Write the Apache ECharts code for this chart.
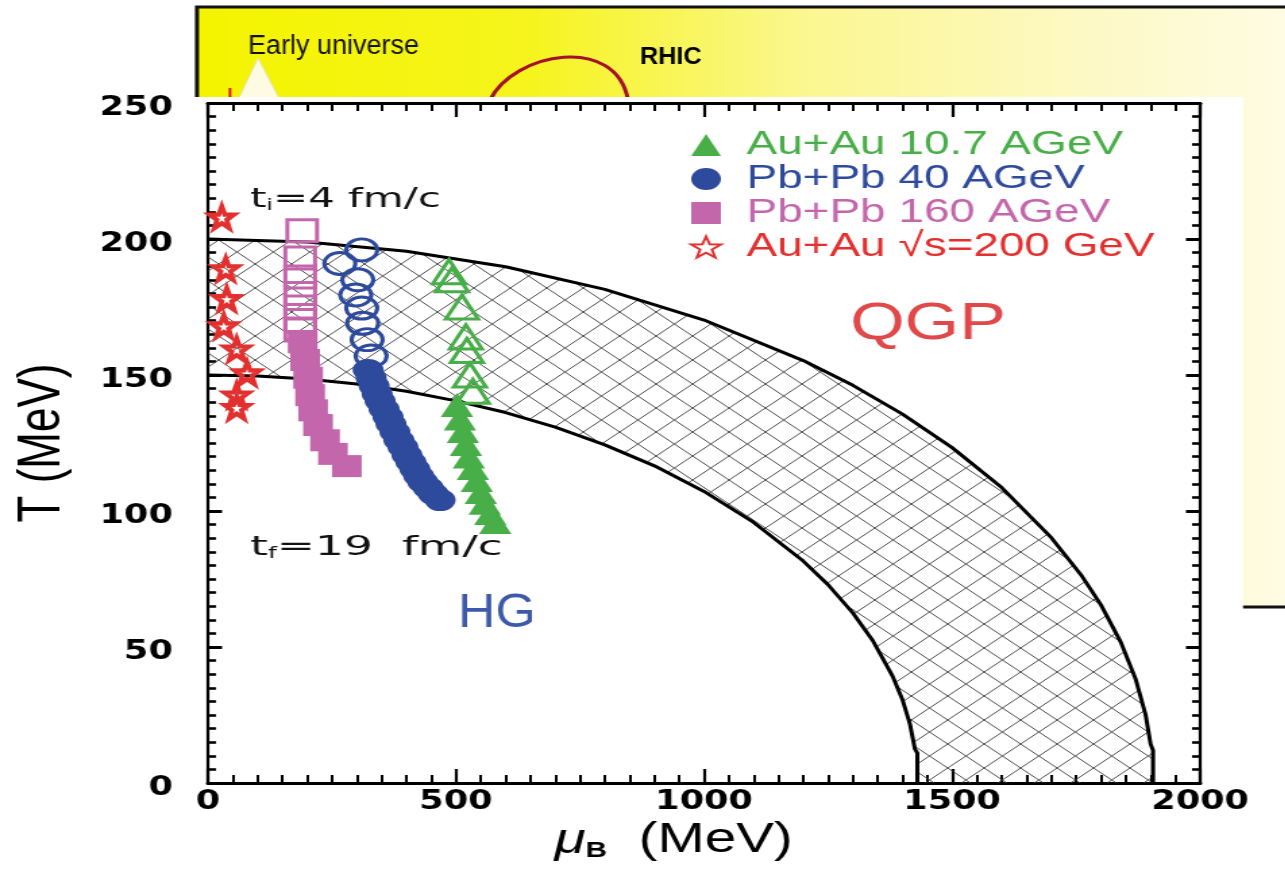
<!DOCTYPE html>
<html>
<head>
<meta charset="utf-8">
<script src="https://cdn.jsdelivr.net/npm/echarts@6/dist/echarts.min.js"></script>
<style>
  html, body { margin: 0; padding: 0; background: #fff; width: 1285px; height: 873px; overflow: hidden; }
  /* the figure is drawn narrow and widened horizontally */
  #chart { width: 952px; height: 873px; transform: scaleX(1.35); transform-origin: 0 0; }
</style>
</head>
<body>
<div id="chart"></div>
<script>
// ---- data: freeze-out trajectories in the T - mu_B plane ----
// phase boundary band (inner and outer edge), mu_B in MeV, T in MeV
const innerMu = [0, 100, 200, 300, 400, 500, 600, 700, 800, 900, 1000, 1100, 1200, 1250, 1300, 1340, 1380, 1400, 1415, 1425, 1430, 1430];
const innerT  = [150, 149.6, 148.5, 146.7, 144, 140.5, 136.2, 130.8, 124.3, 116.6, 107.2, 95.8, 81.6, 72.9, 62.5, 52.4, 39.3, 30.6, 21.7, 12.5, 11, 0];
const outerMu = [0, 200, 400, 600, 800, 1000, 1200, 1300, 1400, 1500, 1600, 1700, 1760, 1800, 1840, 1870, 1890, 1900, 1905, 1905];
const outerT  = [200, 198.9, 195.5, 189.8, 181.5, 170.2, 155.3, 146.2, 135.6, 123.3, 108.6, 90.2, 76.5, 65.5, 51.8, 38.2, 25.1, 14.4, 12, 0];

// Au+Au 10.7 AGeV (early times open, later filled)
const au107OpenMu   = [486, 492, 512, 520, 522, 528, 534];
const au107OpenT    = [188, 185, 175, 164, 159, 150, 144];
const au107FilledMu = [502, 508, 514, 520, 526, 534, 542, 550, 558, 569, 579];
const au107FilledT  = [139, 134, 129.4, 124.6, 120, 115.8, 111.4, 107, 103, 99.3, 96];

// Pb+Pb 40 AGeV
const pb40OpenMu   = [310, 266, 302, 298, 310, 312, 321, 329];
const pb40OpenT    = [196, 191, 185, 179.4, 174.6, 169, 163, 157];
const pb40FilledMu = [323, 329, 335, 341, 347, 355, 363, 369, 377, 385, 393, 401, 409, 417, 425, 433, 444, 454, 468];
const pb40FilledT  = [151.8, 148.9, 146, 143, 140.4, 137.5, 134.6, 132, 129, 126, 123.5, 120.6, 118, 115.4, 112.9, 110.7, 108.5, 106.3, 104];

// Pb+Pb 160 AGeV
const pb160OpenMu   = [190, 186, 186, 186, 186, 186, 186];
const pb160OpenT    = [203, 193, 186, 180, 175, 170, 166.5];
const pb160FilledMu = [191, 196, 202, 206, 212, 222, 236, 252, 280];
const pb160FilledT  = [162, 155.5, 149, 142.6, 137, 131.6, 126, 121, 116.5];

// Au+Au sqrt(s)=200 GeV
const au200Mu = [28, 36, 38, 32, 58, 79, 58, 58];
const au200T  = [208, 189, 178, 168, 159.5, 150.7, 142.6, 138];

const seriesNames = ['Au+Au 10.7 AGeV', 'Pb+Pb 40 AGeV', 'Pb+Pb 160 AGeV', 'Au+Au \u221As=200 GeV'];
const xTickStep = 500, yTickStep = 50;

// ---- styling ----
const X_SCALE = 1.35;            // horizontal widening of the chart container
const sx = v => v / X_SCALE;     // page x -> chart x
const GREEN = '#48ae48', BLUE = '#2e4a9c', PINK = '#c466ac', RED = '#e2302e';
const STAR = 'path://M50,0 L61.8,33.8 L97.6,34.5 L69,56.2 L79.4,90.5 L50,70 L20.6,90.5 L31,56.2 L2.4,34.5 L38.2,33.8 Z';

function points(mu, t) { return mu.map((m, i) => [m, t[i]]); }
function openPoints(mu, t, color) {
  return mu.map((m, i) => ({
    value: [m, t[i]],
    itemStyle: { color: 'rgba(0,0,0,0)', borderColor: color, borderWidth: 3 }
  }));
}

// cross-hatch tile for the transition band
function hatchTile() {
  const w = 27, h = 24;
  const c = document.createElement('canvas');
  c.width = w; c.height = h;
  const g = c.getContext('2d');
  g.strokeStyle = '#3a3a3a';
  g.lineWidth = 0.9;
  for (const dx of [-w, 0, w]) {
    g.beginPath(); g.moveTo(dx, 0); g.lineTo(dx + w, h); g.stroke();
    g.beginPath(); g.moveTo(dx + w, 0); g.lineTo(dx, h); g.stroke();
  }
  return c;
}
const hatchFill = { image: hatchTile(), repeat: 'repeat' };

const tickLabel = { fontFamily: 'DejaVu Sans', fontWeight: 'bold', fontSize: 26, color: '#000', formatter: v => String(v) };

function frameAxis(extra) {
  return Object.assign({
    type: 'value',
    splitLine: { show: false },
    minorSplitLine: { show: false },
  }, extra);
}

const xCommon = {
  min: 0, max: 2000, interval: xTickStep,
  axisLine: { show: true, onZero: false, lineStyle: { color: '#000', width: 3 } },
  axisTick: { show: true, inside: true, length: 14, lineStyle: { color: '#000', width: 2.2 } },
  minorTick: { show: true, splitNumber: 10, length: 8, lineStyle: { color: '#000', width: 2 } }
};
const yCommon = {
  min: 0, max: 250, interval: yTickStep,
  axisLine: { show: true, onZero: false, lineStyle: { color: '#000', width: 2.2 } },
  axisTick: { show: true, inside: true, length: 10.5, lineStyle: { color: '#000', width: 3 } },
  minorTick: { show: true, splitNumber: 10, length: 6, lineStyle: { color: '#000', width: 2.6 } }
};

const chart = echarts.init(document.getElementById('chart'), null, { renderer: 'canvas' });

const option = {
  animation: false,
  backgroundColor: '#fff',
  grid: { left: 154, right: 63, top: 103, bottom: 90 },
  legend: {
    orient: 'vertical',
    left: 511, top: 128,
    padding: 0, itemGap: 0,
    itemWidth: 22, itemHeight: 22,
    selectedMode: false,
    textStyle: { fontFamily: 'Liberation Sans', fontSize: 34, lineHeight: 34, padding: [0, 0, 0, 14] },
    data: [
      { name: seriesNames[0], icon: 'triangle', textStyle: { color: GREEN } },
      { name: seriesNames[1], icon: 'circle', textStyle: { color: BLUE } },
      { name: seriesNames[2], icon: 'rect', textStyle: { color: PINK } },
      { name: seriesNames[3], icon: STAR, textStyle: { color: RED } }
    ]
  },
  xAxis: [
    frameAxis(Object.assign({}, xCommon, {
      position: 'bottom',
      axisLabel: Object.assign({ margin: 6 }, tickLabel),
      name: '{mu|\u03bc}{sub|B}{t|  (MeV)}',
      nameLocation: 'middle',
      nameGap: 30,
      nameTextStyle: {
        padding: [0, 45, 0, 0],
        rich: {
          mu: { fontFamily: 'Liberation Sans', fontStyle: 'italic', fontSize: 42, color: '#000' },
          sub: { fontFamily: 'Liberation Sans', fontWeight: 'bold', fontSize: 22, color: '#000', verticalAlign: 'bottom' },
          t: { fontFamily: 'Liberation Sans', fontSize: 42, color: '#000' }
        }
      }
    })),
    frameAxis(Object.assign({}, xCommon, { position: 'top', axisLabel: { show: false } }))
  ],
  yAxis: [
    frameAxis(Object.assign({}, yCommon, {
      position: 'left',
      axisLabel: Object.assign({ margin: 26, verticalAlign: 'top', lineHeight: 10 }, tickLabel),
      name: 'T (MeV)',
      nameLocation: 'middle',
      nameRotate: 90,
      nameGap: 100,
      nameTextStyle: { fontFamily: 'Liberation Sans', fontSize: 44, color: '#000' }
    })),
    frameAxis(Object.assign({}, yCommon, { position: 'right', axisLabel: { show: false } }))
  ],
  graphic: [
    // slide panel behind the plot
    {
      type: 'rect', z: -10,
      shape: { x: sx(197), y: 7, width: sx(1300) - sx(197), height: 600 },
      style: {
        fill: new echarts.graphic.LinearGradient(0, 0, 1, 0, [
          { offset: 0, color: '#f4f400' },
          { offset: 0.3, color: '#f6f41c' },
          { offset: 0.55, color: '#fbf790' },
          { offset: 0.8, color: '#fdf9c4' },
          { offset: 1, color: '#fffce6' }
        ]),
        stroke: '#111', lineWidth: 3
      }
    },
    { type: 'polygon', z: -9, shape: { points: [[sx(258), 58], [sx(238), 100], [sx(280), 100]] }, style: { fill: '#fffbe2', stroke: '#e8e6a0', lineWidth: 1 } },
    { type: 'line', z: -9, shape: { x1: sx(230), y1: 88, x2: sx(230), y2: 100 }, style: { stroke: '#e01818', lineWidth: 2 } },
    {
      type: 'text', z: -9, x: sx(248), y: 47, scaleX: 0.74,
      style: { text: 'Early universe', fontFamily: 'Liberation Sans', fontSize: 27, fill: '#111', verticalAlign: 'middle', align: 'left' }
    },
    {
      type: 'text', z: -9, x: sx(640), y: 57, scaleX: 0.78,
      style: { text: 'RHIC', fontFamily: 'Liberation Sans', fontWeight: 'bold', fontSize: 24, fill: '#000', verticalAlign: 'middle', align: 'left' }
    },
    {
      type: 'bezierCurve', z: -9,
      shape: { x1: sx(490), y1: 100, cpx1: sx(514), cpy1: 52, cpx2: sx(616), cpy2: 34, x2: sx(628), y2: 100 },
      style: { stroke: '#a3112c', lineWidth: 3, fill: null }
    },
    // white plot sheet
    { type: 'rect', z: -8, shape: { x: 0, y: 97, width: sx(1243), height: 800 }, style: { fill: '#ffffff' } },
    // annotations
    {
      type: 'text', z: 50, x: sx(250), y: 200, scaleX: 1.15,
      style: {
        text: '{a|t}{s|i}{a|=4 fm/c}', verticalAlign: 'middle', align: 'left',
        rich: {
          a: { fontFamily: 'DejaVu Sans', fontSize: 27, fill: '#111' },
          s: { fontFamily: 'DejaVu Sans', fontSize: 15, fill: '#111', verticalAlign: 'bottom' }
        }
      }
    },
    {
      type: 'text', z: 50, x: sx(250), y: 548, scaleX: 1.25,
      style: {
        text: '{a|t}{s|f}{a|=19  fm/c}', verticalAlign: 'middle', align: 'left',
        rich: {
          a: { fontFamily: 'DejaVu Sans', fontSize: 27, fill: '#111' },
          s: { fontFamily: 'DejaVu Sans', fontSize: 15, fill: '#111', verticalAlign: 'bottom' }
        }
      }
    },
    {
      type: 'text', z: 50, x: sx(850), y: 325,
      style: { text: 'QGP', fontFamily: 'Liberation Sans', fontSize: 52, fill: '#e0484a', verticalAlign: 'middle', align: 'left' }
    },
    {
      type: 'text', z: 50, x: sx(458), y: 614, scaleX: 0.8,
      style: { text: 'HG', fontFamily: 'Liberation Sans', fontSize: 48, fill: '#3d59a8', verticalAlign: 'middle', align: 'left' }
    }
  ],
  series: [
    {
      type: 'custom', name: 'band', z: 1, silent: true,
      data: [[0, 0]],
      renderItem: function (params, api) {
        const pts = [];
        for (let i = 0; i < outerMu.length; i++) pts.push(api.coord([outerMu[i], outerT[i]]));
        for (let i = innerMu.length - 1; i >= 0; i--) pts.push(api.coord([innerMu[i], innerT[i]]));
        return { type: 'polygon', shape: { points: pts }, style: { fill: hatchFill, stroke: null } };
      }
    },
    {
      type: 'line', name: 'inner edge', z: 2, silent: true, showSymbol: false, symbol: 'none',
      data: points(innerMu, innerT), lineStyle: { color: '#000', width: 3 }
    },
    {
      type: 'line', name: 'outer edge', z: 2, silent: true, showSymbol: false, symbol: 'none',
      data: points(outerMu, outerT), lineStyle: { color: '#000', width: 3 }
    },
    {
      type: 'scatter', name: seriesNames[3], z: 4, symbol: STAR, symbolSize: [18, 22],
      itemStyle: { color: 'rgba(0,0,0,0)', borderColor: RED, borderWidth: 4, opacity: 1 },
      data: points(au200Mu, au200T)
    },
    {
      type: 'scatter', name: seriesNames[2], z: 4, symbol: 'rect', symbolSize: [22, 22],
      itemStyle: { color: PINK, opacity: 1 },
      data: openPoints(pb160OpenMu, pb160OpenT, PINK).concat(points(pb160FilledMu, pb160FilledT))
    },
    {
      type: 'scatter', name: seriesNames[1], z: 4, symbol: 'circle', symbolSize: [23, 22],
      itemStyle: { color: BLUE, opacity: 1 },
      data: openPoints(pb40OpenMu, pb40OpenT, BLUE).concat(points(pb40FilledMu, pb40FilledT))
    },
    {
      type: 'scatter', name: seriesNames[0], z: 4, symbol: 'triangle', symbolSize: [24, 24],
      itemStyle: { color: GREEN, opacity: 1 },
      data: openPoints(au107OpenMu, au107OpenT, GREEN).concat(points(au107FilledMu, au107FilledT))
    }
  ]
};

chart.setOption(option);
</script>
</body>
</html>
